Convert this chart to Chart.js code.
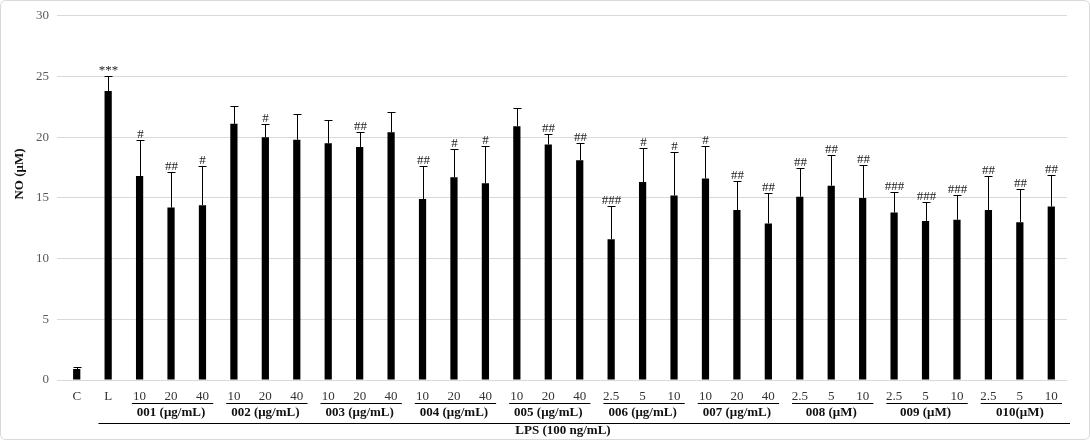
<!DOCTYPE html>
<html>
<head>
<meta charset="utf-8">
<script src="https://cdn.jsdelivr.net/npm/chart.js@4"></script>
<style>
  body { margin: 0; background: #fff; }
</style>
</head>
<body>
<canvas id="noChart" width="1090" height="440"></canvas>
<script>
// tick labels under each bar
const categories = ['C', 'L',
  '10', '20', '40', '10', '20', '40', '10', '20', '40', '10', '20', '40', '10', '20', '40',
  '2.5', '5', '10', '10', '20', '40', '2.5', '5', '10', '2.5', '5', '10', '2.5', '5', '10'];

// mean NO (uM) and upper error
const means = [0.9, 23.8,
  16.8, 14.2, 14.4, 21.1, 20.0, 19.8, 19.5, 19.2, 20.4, 14.9, 16.7, 16.2, 20.9, 19.4, 18.1,
  11.6, 16.3, 15.2, 16.6, 14.0, 12.9, 15.1, 16.0, 15.0, 13.8, 13.1, 13.2, 14.0, 13.0, 14.3];
const errors = [0.15, 1.2,
  3.0, 2.9, 3.2, 1.5, 1.1, 2.1, 1.9, 1.2, 1.7, 2.7, 2.3, 3.1, 1.5, 0.9, 1.4,
  2.7, 2.8, 3.6, 2.7, 2.4, 2.5, 2.4, 2.5, 2.7, 1.7, 1.6, 2.0, 2.8, 2.7, 2.6];
const marks = ['', '***',
  '#', '##', '#', '', '#', '', '', '##', '', '##', '#', '#', '', '##', '##',
  '###', '#', '#', '#', '##', '##', '##', '##', '##', '###', '###', '###', '##', '##', '##'];

// second level of the category axis
const groupLabels = ['001 (μg/mL)', '002 (μg/mL)', '003 (μg/mL)', '004 (μg/mL)', '005 (μg/mL)',
  '006 (μg/mL)', '007 (μg/mL)', '008 (μM)', '009 (μM)', '010(μM)'];
const groupStart = [2, 5, 8, 11, 14, 17, 20, 23, 26, 29];
const lpsLabel = 'LPS (100 ng/mL)';

const serif = '"Liberation Serif", "Times New Roman", serif';

const extras = {
  id: 'extras',
  beforeDraw(chart) {
    const ctx = chart.ctx;
    ctx.save();
    ctx.strokeStyle = '#d9d9d9';
    ctx.lineWidth = 1;
    ctx.beginPath();
    ctx.roundRect(0.5, 0.5, 1089, 439, 5);
    ctx.stroke();
    ctx.restore();
  },
  afterDatasetsDraw(chart) {
    const ctx = chart.ctx;
    const x = chart.scales.x, y = chart.scales.y;
    const step = x.getPixelForValue(1) - x.getPixelForValue(0);
    ctx.save();

    // error bars + significance marks
    ctx.strokeStyle = '#000';
    ctx.lineWidth = 1;
    ctx.fillStyle = '#222';
    ctx.font = '13px ' + serif;
    ctx.textAlign = 'center';
    ctx.textBaseline = 'bottom';
    means.forEach((m, i) => {
      const px = Math.round(x.getPixelForValue(i)) + 0.5;
      const top = Math.round(y.getPixelForValue(m + errors[i])) + 0.5;
      const base = y.getPixelForValue(m);
      ctx.beginPath();
      ctx.moveTo(px, base);
      ctx.lineTo(px, top);
      ctx.moveTo(px - 4, top);
      ctx.lineTo(px + 4, top);
      ctx.stroke();
      if (marks[i]) ctx.fillText(marks[i], px, top + 1);
    });

    // category labels
    ctx.fillStyle = '#333';
    ctx.textBaseline = 'middle';
    categories.forEach((c, i) => {
      ctx.fillText(c, x.getPixelForValue(i), 397);
    });

    // group lines and labels
    ctx.font = 'bold 13px ' + serif;
    ctx.fillStyle = '#111';
    groupStart.forEach((s, g) => {
      const left = x.getPixelForValue(s) - step / 2;
      const right = x.getPixelForValue(s + 2) + step / 2;
      ctx.beginPath();
      ctx.moveTo(left + 8, 403.5);
      ctx.lineTo(right - 5, 403.5);
      ctx.stroke();
      ctx.fillText(groupLabels[g], (left + right) / 2, 413);
    });

    // LPS bracket
    const lpsLeft = x.getPixelForValue(1) - step / 2 + 6;
    ctx.beginPath();
    ctx.moveTo(lpsLeft, 423.5);
    ctx.lineTo(1070, 423.5);
    ctx.stroke();
    ctx.fillText(lpsLabel, 563, 431);

    // y title
    ctx.translate(20, 174);
    ctx.rotate(-Math.PI / 2);
    ctx.fillText('NO (μM)', 0, 0);
    ctx.restore();
  }
};

new Chart(document.getElementById('noChart'), {
  type: 'bar',
  data: {
    labels: categories,
    datasets: [{
      data: means,
      backgroundColor: '#000',
      barPercentage: 0.23,
      categoryPercentage: 1.0
    }]
  },
  options: {
    responsive: false,
    animation: false,
    layout: { padding: { left: 0, right: 23, top: 15, bottom: 60 } },
    plugins: { legend: { display: false }, tooltip: { enabled: false } },
    scales: {
      x: { display: false },
      y: {
        min: 0, max: 30,
        afterFit(scale) { scale.width = 61; },
        border: { display: false },
        grid: { color: '#d9d9d9', tickLength: 4 },
        ticks: { stepSize: 5, padding: 8, color: '#595959', font: { family: serif, size: 13 } }
      }
    }
  },
  plugins: [extras]
});
</script>
</body>
</html>
